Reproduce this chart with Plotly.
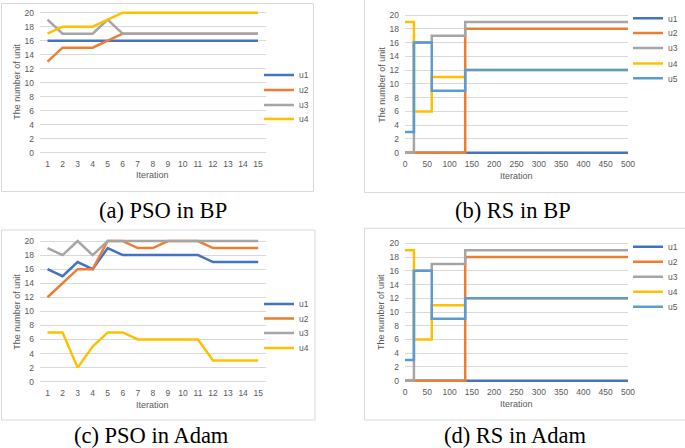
import plotly.graph_objects as go

W, H = 685, 448

# ---------------- data ----------------
series_names = ["u1", "u2", "u3", "u4", "u5"]
colors = ["#4472C4", "#ED7D31", "#A5A5A5", "#FFC000", "#5B9BD5"]

pso_iter = [1, 2, 3, 4, 5, 6, 7, 8, 9, 10, 11, 12, 13, 14, 15]
pso_tick_labels = ["1", "2", "3", "4", "5", "6", "7", "8", "9", "10", "11", "12", "13", "14", "15"]

pso_bp_u1 = [16, 16, 16, 16, 16, 16, 16, 16, 16, 16, 16, 16, 16, 16, 16]
pso_bp_u2 = [13, 15, 15, 15, 16, 17, 17, 17, 17, 17, 17, 17, 17, 17, 17]
pso_bp_u3 = [19, 17, 17, 17, 19, 17, 17, 17, 17, 17, 17, 17, 17, 17, 17]
pso_bp_u4 = [17, 18, 18, 18, 19, 20, 20, 20, 20, 20, 20, 20, 20, 20, 20]

pso_adam_u1 = [16, 15, 17, 16, 19, 18, 18, 18, 18, 18, 18, 17, 17, 17, 17]
pso_adam_u2 = [12, 14, 16, 16, 20, 20, 19, 19, 20, 20, 20, 19, 19, 19, 19]
pso_adam_u3 = [19, 18, 20, 18, 20, 20, 20, 20, 20, 20, 20, 20, 20, 20, 20]
pso_adam_u4 = [7, 7, 2, 5, 7, 7, 6, 6, 6, 6, 6, 3, 3, 3, 3]

# random search: values hold from each breakpoint iteration to the next
rs_iter = [0, 20, 60, 135, 500]
rs_tick_vals = [0, 50, 100, 150, 200, 250, 300, 350, 400, 450, 500]

rs_bp_u1 = [0, 0, 0, 0, 0]
rs_bp_u2 = [0, 0, 0, 18, 18]
rs_bp_u3 = [0, 16, 17, 19, 19]
rs_bp_u4 = [19, 6, 11, 12, 12]
rs_bp_u5 = [3, 16, 9, 12, 12]

rs_adam_u1 = [0, 0, 0, 0, 0]
rs_adam_u2 = [0, 0, 0, 18, 18]
rs_adam_u3 = [0, 16, 17, 19, 19]
rs_adam_u4 = [19, 6, 11, 12, 12]
rs_adam_u5 = [3, 16, 9, 12, 12]

y_tick_vals = [0, 2, 4, 6, 8, 10, 12, 14, 16, 18, 20]

captions = ["(a) PSO in BP", "(b) RS in BP", "(c) PSO in Adam", "(d) RS in Adam"]
x_title = "Iteration"
y_title = "The number of unit"

# ---------------- layout helpers (pixel -> paper) ----------------
def px(x):
    return x / W


def py(y):
    return 1 - y / H


TICK_FONT = dict(family="Liberation Sans, Arial, sans-serif", size=8.5, color="#595959")
TITLE_FONT = dict(family="Liberation Sans, Arial, sans-serif", size=9, color="#595959")
GRID = "#D9D9D9"

panels = [
    dict(xd=(40, 265.5), yd=(9.9, 155.5), box=(1.5, 3.5, 313.5, 191.5),
         leg_x=259, leg_y=[75, 90, 105, 119], yt=(16.7, 82), xt=(152, 175), cap=(163, 211)),
    dict(xd=(405, 628), yd=(12.25, 155.45), box=(364.5, -2, 687, 192.5),
         leg_x=628, leg_y=[18.3, 33, 48, 63.5, 78.3], yt=(381.7, 85), xt=(516.5, 176), cap=(513, 211)),
    dict(xd=(40, 265.7), yd=(238.2, 384.5), box=(1.5, 230, 315, 420),
         leg_x=259, leg_y=[304, 318.5, 333, 348], yt=(16.7, 312), xt=(152.7, 405), cap=(151, 435)),
    dict(xd=(405, 628), yd=(240.55, 383.45), box=(364.5, 228.3, 687, 420),
         leg_x=628, leg_y=[246.7, 261.7, 276.7, 291.7, 306.7], yt=(381.7, 312.3), xt=(516.5, 404), cap=(515, 435)),
]

panel_data = [
    (pso_iter, [pso_bp_u1, pso_bp_u2, pso_bp_u3, pso_bp_u4], "linear"),
    (rs_iter, [rs_bp_u1, rs_bp_u2, rs_bp_u3, rs_bp_u4, rs_bp_u5], "hv"),
    (pso_iter, [pso_adam_u1, pso_adam_u2, pso_adam_u3, pso_adam_u4], "linear"),
    (rs_iter, [rs_adam_u1, rs_adam_u2, rs_adam_u3, rs_adam_u4, rs_adam_u5], "hv"),
]

fig = go.Figure()
layout = dict(
    width=W, height=H,
    margin=dict(l=0, r=0, t=0, b=0, autoexpand=False),
    paper_bgcolor="white", plot_bgcolor="white",
    showlegend=True,
    shapes=[], annotations=[],
)

legend_count = 0
for i, (p, (xs, ys_list, shape)) in enumerate(zip(panels, panel_data)):
    n = i + 1
    xa = "x" if n == 1 else f"x{n}"
    ya = "y" if n == 1 else f"y{n}"
    xkey = "xaxis" if n == 1 else f"xaxis{n}"
    ykey = "yaxis" if n == 1 else f"yaxis{n}"

    for k, ys in enumerate(ys_list):
        legend_count += 1
        lkey = "legend" if legend_count == 1 else f"legend{legend_count}"
        fig.add_trace(go.Scatter(
            x=xs, y=ys, mode="lines", name=series_names[k],
            line=dict(color=colors[k], width=2.5, shape=shape),
            xaxis=xa, yaxis=ya, legend=lkey, hoverinfo="skip",
        ))
        layout[lkey] = dict(
            x=px(p["leg_x"]), y=py(p["leg_y"][k]), xanchor="left", yanchor="middle",
            bgcolor="rgba(0,0,0,0)", borderwidth=0, itemwidth=30,
            font=dict(family="Liberation Sans, Arial, sans-serif", size=8.5, color="#595959"),
        )

    if shape == "linear":
        xconf = dict(range=[0.5, 15.5], tickmode="array", tickvals=pso_iter, ticktext=pso_tick_labels)
    else:
        xconf = dict(range=[0, 500], tickmode="array", tickvals=rs_tick_vals)

    layout[xkey] = dict(
        domain=[px(p["xd"][0]), px(p["xd"][1])], anchor=ya,
        showgrid=False, zeroline=False, showline=False, ticks="",
        tickfont=TICK_FONT, ticklabelstandoff=2, fixedrange=True,
        **xconf,
    )
    layout[ykey] = dict(
        domain=[py(p["yd"][1]), py(p["yd"][0])], anchor=xa,
        range=[-0.4, 20.4], tickmode="array", tickvals=y_tick_vals,
        showgrid=True, gridcolor=GRID, gridwidth=1,
        zeroline=True, zerolinecolor=GRID, zerolinewidth=1,
        showline=False, ticks="", tickfont=TICK_FONT, ticklabelstandoff=5, fixedrange=True,
    )

    b = p["box"]
    layout["shapes"].append(dict(
        type="rect", xref="paper", yref="paper",
        x0=px(b[0]), x1=px(b[2]), y0=py(b[3]), y1=py(b[1]),
        line=dict(color="#D9D9D9", width=1), fillcolor="rgba(0,0,0,0)", layer="below",
    ))
    layout["annotations"].append(dict(
        text=y_title, xref="paper", yref="paper", x=px(p["yt"][0]), y=py(p["yt"][1]),
        textangle=-90, showarrow=False, font=TITLE_FONT, xanchor="center", yanchor="middle",
    ))
    layout["annotations"].append(dict(
        text=x_title, xref="paper", yref="paper", x=px(p["xt"][0]), y=py(p["xt"][1]),
        showarrow=False, font=TITLE_FONT, xanchor="center", yanchor="middle",
    ))
    layout["annotations"].append(dict(
        text=captions[i], xref="paper", yref="paper", x=px(p["cap"][0]), y=py(p["cap"][1]),
        showarrow=False, font=dict(family="Liberation Serif, Times New Roman, serif", size=22.5, color="black"),
        xanchor="center", yanchor="middle",
    ))

fig.update_layout(**layout)
fig.write_html(
    "out.html",
    config={"displayModeBar": False},
    post_script="document.body.style.margin='0';document.body.style.overflow='hidden';",
)
